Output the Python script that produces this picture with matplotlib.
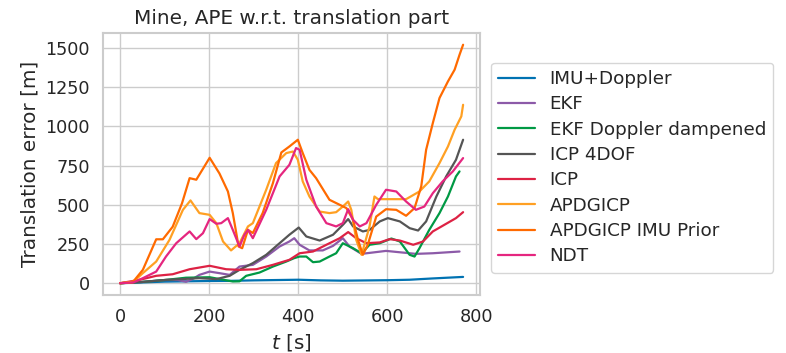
import matplotlib
matplotlib.use("Agg")
import matplotlib.pyplot as plt
import seaborn as sns

# values
labels = ["IMU+Doppler", "EKF", "EKF Doppler dampened", "ICP 4DOF", "ICP",
          "APDGICP", "APDGICP IMU Prior", "NDT"]
colors = ["#0072b2", "#8c5aa8", "#009944", "#555555", "#dd2244",
          "#ffa023", "#ff6a00", "#e5267f"]

t_imu = [0, 50, 100, 200, 250, 300, 400, 450, 500, 600, 650, 700, 770]
e_imu = [0, 5, 10, 14, 15, 18, 22, 18, 16, 19, 22, 30, 40]

t_ekf = [0, 50, 100, 130, 148, 165, 178, 201, 223, 246, 268, 298, 328, 358,
         380, 391, 403, 425, 455, 478, 500, 515, 542, 597, 664, 702, 762]
e_ekf = [0, 8, 20, 20, 9, 30, 53, 74, 64, 53, 106, 117, 170, 234,
         266, 287, 245, 209, 209, 238, 287, 234, 187, 206, 187, 191, 202]

t_ekfd = [0, 50, 100, 148, 201, 253, 268, 283, 313, 343, 373, 391, 403, 418,
          433, 448, 470, 485, 500, 523, 542, 560, 583, 609, 628, 650, 661,
          672, 694, 717, 736, 754, 762]
e_ekfd = [0, 8, 20, 35, 38, 11, 12, 47, 68, 106, 138, 160, 170, 170,
          134, 138, 170, 191, 255, 223, 191, 245, 255, 285, 266, 181, 170,
          223, 340, 447, 553, 681, 713]

t_icp4 = [0, 50, 103, 178, 216, 246, 268, 298, 328, 358, 380, 401, 418, 448,
          478, 500, 512, 523, 545, 560, 583, 601, 628, 650, 669, 687, 710,
          732, 754, 770]
e_icp4 = [0, 8, 21, 32, 26, 47, 85, 128, 181, 255, 309, 355, 298, 272,
          309, 372, 409, 362, 330, 340, 394, 415, 394, 351, 336, 394, 553,
          681, 787, 915]

t_icp = [0, 43, 81, 118, 156, 201, 238, 268, 306, 343, 380, 403, 433, 463,
         493, 512, 530, 553, 583, 605, 628, 658, 680, 702, 732, 754, 770]
e_icp = [0, 21, 47, 57, 89, 111, 89, 85, 89, 117, 149, 191, 202, 245,
         287, 326, 287, 255, 260, 281, 272, 245, 266, 330, 379, 415, 453]

t_apd = [0, 30, 51, 81, 111, 141, 158, 178, 201, 216, 231, 249, 268, 287,
         298, 328, 350, 373, 388, 399, 410, 425, 448, 470, 485, 500, 512,
         519, 530, 542, 560, 571, 579, 597, 642, 672, 694, 717, 736, 751,
         766, 770]
e_apd = [0, 10, 64, 138, 277, 468, 528, 447, 436, 383, 266, 209, 255, 362,
         383, 596, 766, 830, 840, 787, 649, 553, 457, 447, 453, 489, 521,
         468, 277, 181, 362, 553, 536, 536, 536, 585, 649, 766, 872, 979,
         1064, 1138]

t_apdi = [0, 28, 51, 81, 96, 118, 139, 156, 171, 201, 223, 242, 253, 266,
          274, 287, 298, 320, 343, 362, 380, 399, 410, 425, 440, 470, 493,
          508, 523, 534, 545, 556, 575, 597, 620, 642, 661, 676, 687, 702,
          717, 736, 751, 762, 770]
e_apdi = [0, 5, 85, 280, 280, 360, 510, 670, 660, 800, 700, 585, 447, 234,
          223, 340, 320, 447, 638, 834, 872, 915, 830, 723, 670, 532, 500,
          479, 404, 277, 181, 245, 425, 472, 468, 430, 479, 617, 851, 1021,
          1181, 1287, 1362, 1457, 1521]

t_ndt = [0, 30, 51, 81, 103, 126, 156, 171, 186, 201, 216, 227, 242, 253,
         268, 279, 287, 298, 328, 358, 380, 395, 403, 418, 440, 463, 485,
         500, 512, 523, 538, 553, 575, 597, 620, 642, 664, 683, 702, 724,
         747, 770]
e_ndt = [0, 5, 32, 74, 170, 255, 330, 281, 319, 409, 379, 383, 415, 340,
         234, 309, 340, 287, 468, 681, 755, 862, 851, 660, 489, 383, 362,
         383, 472, 404, 362, 383, 500, 596, 585, 521, 468, 489, 574, 649,
         713, 798]

series = [(t_imu, e_imu), (t_ekf, e_ekf), (t_ekfd, e_ekfd), (t_icp4, e_icp4),
          (t_icp, e_icp), (t_apd, e_apd), (t_apdi, e_apdi), (t_ndt, e_ndt)]

sns.set_theme(style="whitegrid", context="notebook", font_scale=1.2)
plt.rcParams["font.family"] = ["DejaVu Sans"]
plt.rcParams["xtick.labelsize"] = 12.7
plt.rcParams["ytick.labelsize"] = 12.7

fig = plt.figure(figsize=(7.86, 3.53), dpi=100)
ax = fig.add_axes([0.131, 0.164, 0.480, 0.743])

for (t, e), lab, c in zip(series, labels, colors):
    ax.plot(t, e, color=c, lw=1.6, label=lab)

ax.set_title("Mine, APE w.r.t. translation part")
ax.set_xlabel("$t$ [s]")
ax.set_ylabel("Translation error [m]")
ax.set_xticks([0, 200, 400, 600, 800])
ax.set_yticks([0, 250, 500, 750, 1000, 1250, 1500])
for s in ax.spines.values():
    s.set_linewidth(1.5)
ax.legend(loc="center left", bbox_to_anchor=(1.004, 0.486), frameon=True,
          labelspacing=0.4)

fig.savefig("out.png", dpi=100)
